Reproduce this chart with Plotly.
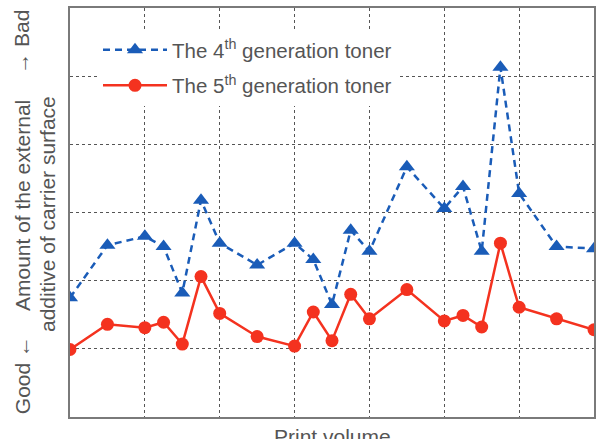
import plotly.graph_objects as go

x_vals = [0, 0.5, 1, 1.25, 1.5, 1.75, 2, 2.5, 3, 3.25, 3.5, 3.75, 4, 4.5, 5, 5.25, 5.5, 5.75, 6, 6.5, 7]
gen4 = [1.75, 2.52, 2.65, 2.50, 1.82, 3.18, 2.55, 2.23, 2.55, 2.31, 1.65, 2.74, 2.43, 3.67, 3.06, 3.38, 2.43, 5.13, 3.28, 2.50, 2.47]
gen5 = [0.99, 1.36, 1.31, 1.39, 1.07, 2.06, 1.52, 1.18, 1.04, 1.54, 1.12, 1.80, 1.44, 1.87, 1.41, 1.49, 1.32, 2.55, 1.61, 1.44, 1.28]
names = ["The 4<sup>th</sup> generation toner", "The 5<sup>th</sup> generation toner"]

BLUE = "#1a5cb8"
RED = "#f4321f"
TXT = "#555555"

fig = go.Figure()
fig.add_trace(go.Scatter(
    x=x_vals, y=gen4, name=names[0], mode="lines+markers", legendgroup="a",
    line=dict(color=BLUE, width=2.5, dash="7px,5px"),
    marker=dict(symbol="triangle-up", size=14, color=BLUE),
))
fig.add_trace(go.Scatter(
    x=x_vals, y=gen5, name=names[1], mode="lines+markers", legendgroup="b",
    line=dict(color=RED, width=2.5),
    marker=dict(symbol="circle", size=13, color=RED),
))

grid = dict(showgrid=True, gridcolor="#555555", gridwidth=1.3, griddash="3px,3px",
            zeroline=False, showticklabels=False, ticks="",
            showline=True, linecolor="#7a7a7a", linewidth=2, mirror=True)

PW = 605 - 70 - 11
PH = 439 - 6 - 22

fig.update_layout(
    width=605, height=439,
    margin=dict(l=70, r=11, t=6, b=22),
    paper_bgcolor="white", plot_bgcolor="white",
    font=dict(family="Liberation Sans, Arial, sans-serif", color=TXT, size=20),
    xaxis=dict(range=[0, 7], dtick=1, **grid),
    yaxis=dict(range=[0, 6], dtick=1, **grid),
    showlegend=True,
    legend=dict(x=(98 - 70) / PW, y=1 - 22 / PH, xanchor="left", yanchor="top",
                bgcolor="white", borderwidth=0, itemwidth=64,
                tracegroupgap=6, font=dict(size=20.5, color=TXT),
                traceorder="grouped"),
)

anns = [
    dict(text="Amount of the external", x=22, y=205),
    dict(text="additive of carrier surface", x=48, y=213),
    dict(text="Good \u2190", x=22, y=375),
    dict(text="\u2192 Bad", x=22, y=40),
]
for a in anns:
    fig.add_annotation(text=a["text"], xref="paper", yref="paper",
                       x=(a["x"] - 70) / PW,
                       y=1 - (a["y"] - 6) / PH,
                       textangle=-90, showarrow=False,
                       xanchor="center", yanchor="middle",
                       font=dict(size=21, color=TXT))

fig.add_annotation(text="Print volume", xref="paper", yref="paper",
                   x=0.5, y=-(423 - 417) / PH,
                   xanchor="center", yanchor="top", showarrow=False,
                   font=dict(size=21, color=TXT))

fig.write_html("out.html")
